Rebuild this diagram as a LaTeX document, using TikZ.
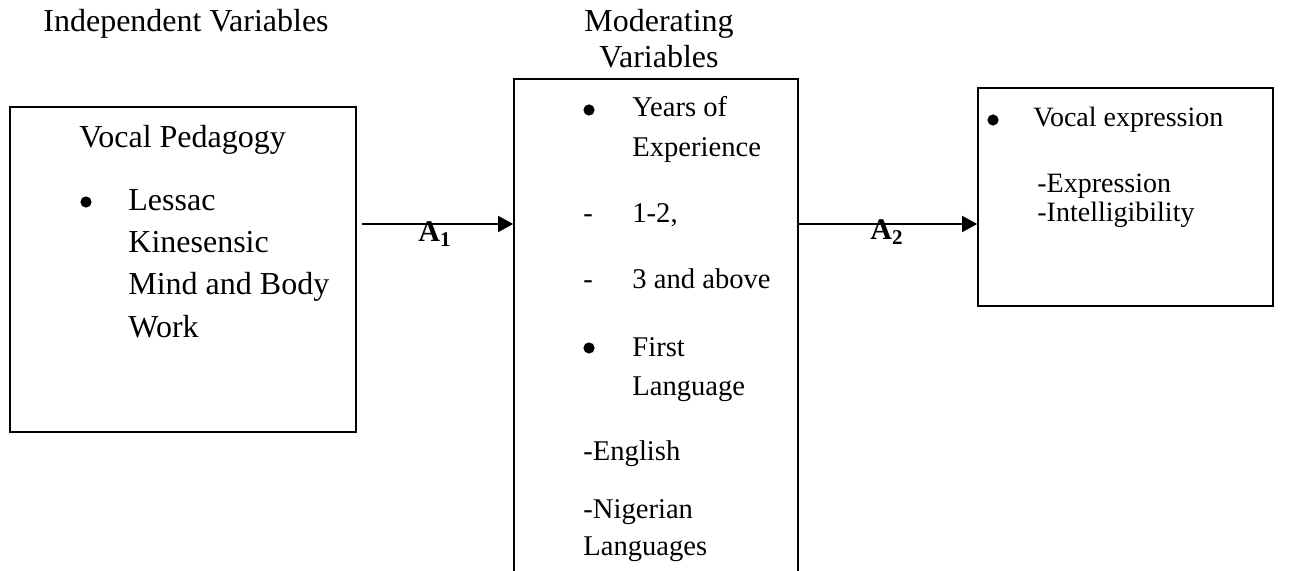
\documentclass[tikz,border=0pt]{standalone}
\usepackage{fontspec}
\setmainfont{Liberation Serif}
\usetikzlibrary{arrows.meta,fit}
\begin{document}
\begin{tikzpicture}[x=0.5pt,y=-0.5pt,
  box/.style={draw,line width=0.85pt,inner sep=0pt},
  big/.style={anchor=base west,inner sep=0pt,font=\fontsize{16}{19}\selectfont},
  mid/.style={anchor=base west,inner sep=0pt,font=\fontsize{14.3}{17}\selectfont},
  sml/.style={anchor=base west,inner sep=0pt,font=\fontsize{14}{17}\selectfont},
  hdr/.style={anchor=base,inner sep=0pt,font=\fontsize{16}{19}\selectfont},
  lab/.style={anchor=base west,inner sep=0pt,font=\fontsize{15}{18}\selectfont\bfseries},
  dot/.style={circle,fill=black,inner sep=0pt,minimum size=5.6pt},
  arr/.style={line width=0.85pt,-{Triangle[length=7.5pt,width=8pt]}}]
\useasboundingbox (0,0) rectangle (1305,571);
% headers
\node[big] (h1) at (43,32) {Independent Variables};
\node[hdr] (h2a) at (659,32) {Moderating};
\node[hdr] (h2b) at (659,68) {Variables};
% boxes
\node[box,fit={(10,107) (356,432)}] (L) {};
\node[box,fit={(514,79) (798,620)}] (M) {};
\node[box,fit={(978,88) (1273,306)}] (R) {};
% left box text
\node[big] (l0) at (79,148) {Vocal Pedagogy};
\node[dot] (ld) at (86,202) {};
\node[big] (l1) at (128,211) {Lessac};
\node[big] (l2) at (128,253) {Kinesensic};
\node[big] (l3) at (128,295) {Mind and Body};
\node[big] (l4) at (128,337) {Work};
% middle box text
\node[dot] (md1) at (589,110) {};
\node[mid] (m1) at (632,117) {Years of};
\node[mid] (m2) at (632,157) {Experience};
\node[mid] (mh1) at (583,223) {-};
\node[mid] (m3) at (632,223) {1-2,};
\node[mid] (mh2) at (583,289) {-};
\node[mid] (m4) at (632,289) {3 and above};
\node[dot] (md2) at (589,348) {};
\node[mid] (m5) at (632,357) {First};
\node[mid] (m6) at (632,395) {Language};
\node[mid] (m7) at (583,460) {-English};
\node[mid] (m8) at (583,518) {-Nigerian};
\node[mid] (m9) at (583,555) {Languages};
% right box text
\node[dot] (rd) at (993,120) {};
\node[sml] (r1) at (1033,127) {Vocal expression};
\node[sml] (r2) at (1037,193) {-Expression};
\node[sml] (r3) at (1037,222) {-Intelligibility};
% arrows
\coordinate (a1s) at (362,224);
\draw[arr] (a1s) -- (a1s -| M.west);
\draw[arr] (M.east |- a1s) -- (a1s -| R.west);
\node[lab] (A1) at (418,242) {A\textsubscript{1}};
\node[lab] (A2) at (870,240) {A\textsubscript{2}};
\end{tikzpicture}
\end{document}
